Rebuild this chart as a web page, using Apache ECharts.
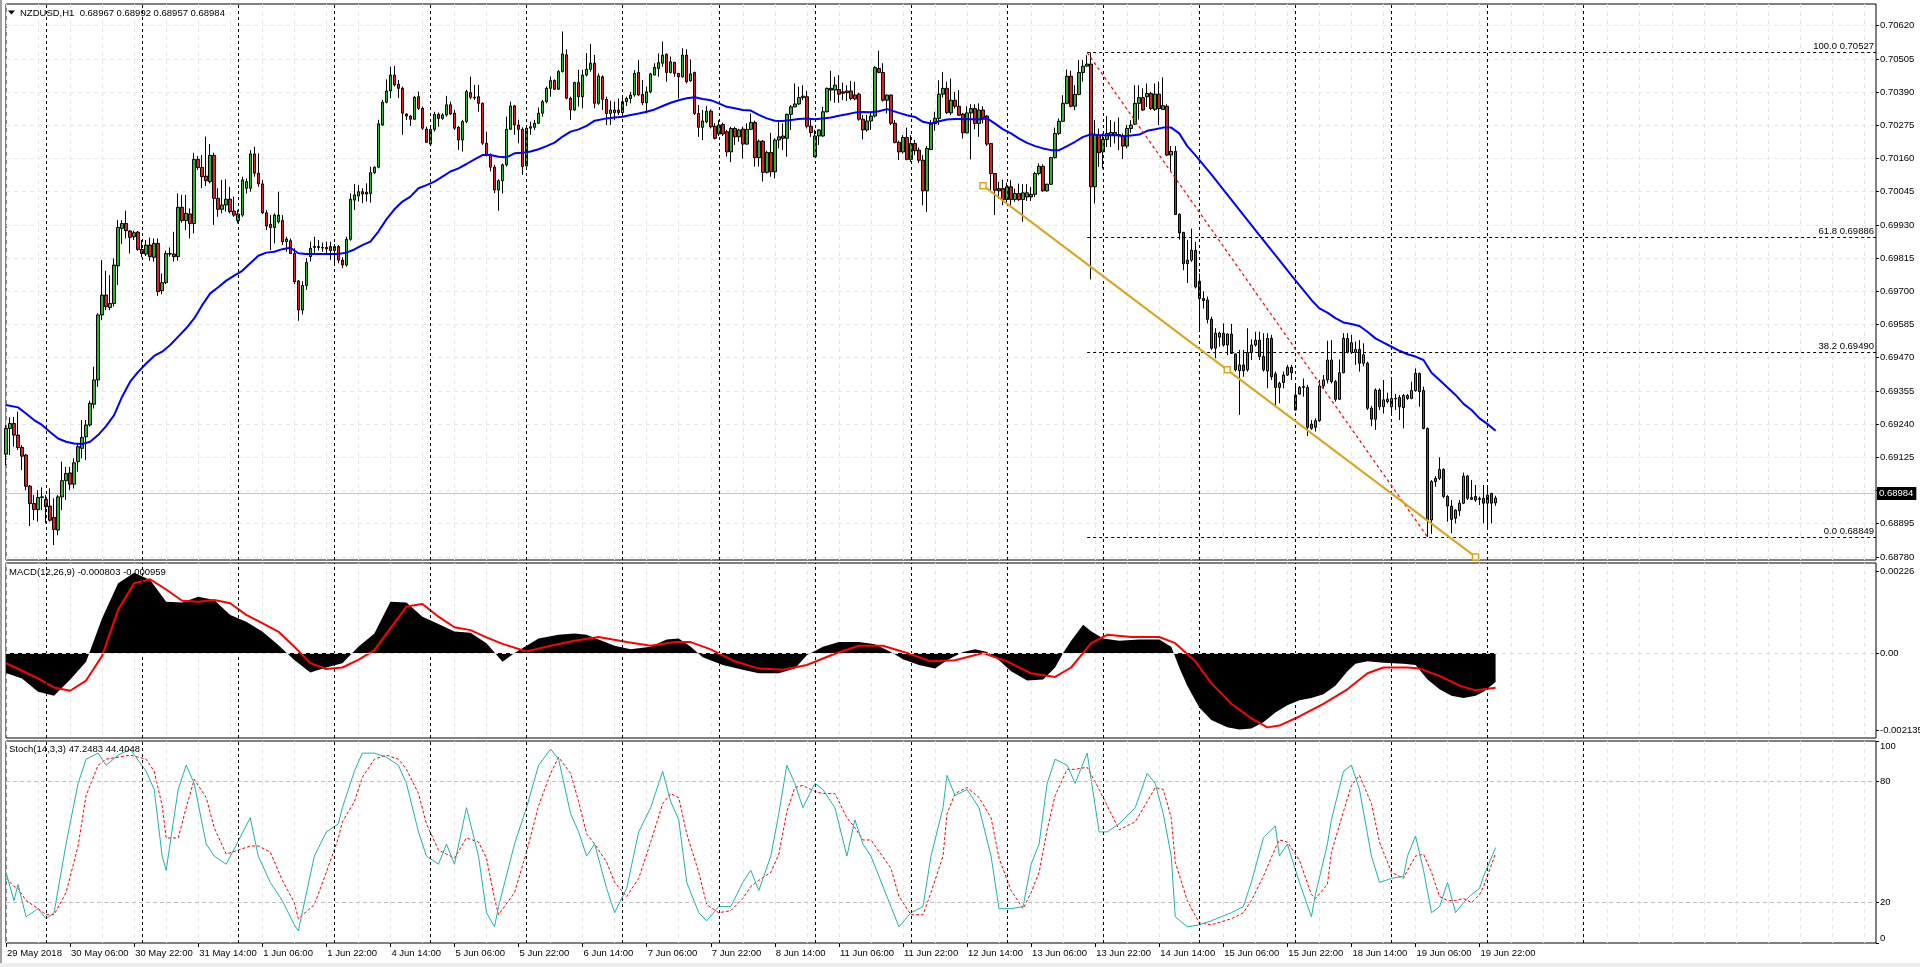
<!DOCTYPE html>
<html><head><meta charset="utf-8">
<script src="https://cdn.jsdelivr.net/npm/echarts@6/dist/echarts.min.js"></script>
<style>html,body{margin:0;padding:0;background:#fff;overflow:hidden}#c{width:1920px;height:967px}</style>
</head><body><div id="c"></div><script>
// ---------- DATA ----------
const symbolTitle = 'NZDUSD,H1  0.68967 0.68992 0.68957 0.68984';
const macdTitle = 'MACD(12,26,9) -0.000803 -0.000959';
const stochTitle = 'Stoch(14,3,3) 47.2483 44.4048';
const dayNames = ['29 May','30 May','31 May','1 Jun','4 Jun','5 Jun','6 Jun','7 Jun','8 Jun','11 Jun','12 Jun','13 Jun','14 Jun','15 Jun','18 Jun','19 Jun','20 Jun','21 Jun','22 Jun','25 Jun','26 Jun'];
const firstLabel = '29 May 2018';
const priceTicks = [0.68780,0.68895,0.69010,0.69125,0.69240,0.69355,0.69470,0.69585,0.69700,0.69815,0.69930,0.70045,0.70160,0.70275,0.70390,0.70505,0.70620];
const macdTicks = [0.00226, 0, -0.002135];
const stochTicks = [0, 20, 80, 100];
const stochLevels = [80, 20];
const sepIdx = [10,34,58,82,106,130,154,178,202,226,250,274,298,322,346,370,394];

const open = [
0.69136,0.69225,0.69242,0.69202,0.69159,0.69133,0.69025,0.68965,0.68944,0.68986,
0.68979,0.68956,0.68917,0.68873,0.68988,0.69044,0.69071,0.69032,0.69110,0.69156,
0.69196,0.69237,0.69309,0.69393,0.69618,0.69687,0.69644,0.69658,0.69788,0.69918,
0.69935,0.69909,0.69889,0.69905,0.69845,0.69829,0.69860,0.69818,0.69866,0.69702,
0.69730,0.69831,0.69829,0.69820,0.69991,0.69945,0.69968,0.69935,0.70157,0.70129,
0.70099,0.70080,0.70171,0.70022,0.69984,0.69999,0.70019,0.69978,0.69945,0.69964,
0.70057,0.70057,0.70176,0.70109,0.70072,0.69972,0.69932,0.69921,0.69941,0.69945,
0.69872,0.69875,0.69831,0.69736,0.69635,0.69720,0.69820,0.69852,0.69855,0.69852,
0.69852,0.69855,0.69841,0.69855,0.69808,0.69791,0.69880,0.70016,0.70030,0.70045,
0.70043,0.70039,0.70111,0.70130,0.70276,0.70355,0.70394,0.70449,0.70417,0.70403,
0.70314,0.70307,0.70296,0.70374,0.70334,0.70262,0.70210,0.70261,0.70313,0.70299,
0.70311,0.70346,0.70317,0.70268,0.70224,0.70288,0.70388,0.70372,0.70374,0.70351,
0.70213,0.70172,0.70130,0.70051,0.70083,0.70138,0.70261,0.70342,0.70276,0.70261,
0.70134,0.70265,0.70268,0.70282,0.70317,0.70357,0.70403,0.70430,0.70400,0.70461,
0.70519,0.70369,0.70328,0.70423,0.70374,0.70449,0.70469,0.70490,0.70351,0.70443,
0.70365,0.70316,0.70328,0.70328,0.70319,0.70357,0.70368,0.70380,0.70458,0.70382,
0.70353,0.70391,0.70449,0.70472,0.70490,0.70521,0.70458,0.70493,0.70455,0.70443,
0.70518,0.70429,0.70458,0.70316,0.70268,0.70287,0.70324,0.70272,0.70245,0.70278,
0.70253,0.70183,0.70264,0.70235,0.70262,0.70210,0.70261,0.70285,0.70163,0.70220,
0.70112,0.70181,0.70114,0.70224,0.70238,0.70230,0.70313,0.70339,0.70349,0.70376,
0.70374,0.70272,0.70166,0.70238,0.70238,0.70322,0.70403,0.70397,0.70399,0.70391,
0.70388,0.70394,0.70380,0.70383,0.70296,0.70259,0.70290,0.70307,0.70472,0.70458,
0.70362,0.70380,0.70282,0.70216,0.70183,0.70233,0.70157,0.70212,0.70189,0.70154,
0.70048,0.70191,0.70281,0.70299,0.70383,0.70403,0.70318,0.70362,0.70341,0.70314,
0.70249,0.70318,0.70333,0.70281,0.70328,0.70307,0.70212,0.70108,0.70056,0.70056,
0.70018,0.70062,0.70018,0.70039,0.70018,0.70027,0.70036,0.70036,0.70108,0.70133,
0.70048,0.70071,0.70163,0.70247,0.70289,0.70351,0.70445,0.70341,0.70382,0.70458,
0.70480,0.70487,0.70062,0.70241,0.70183,0.70226,0.70241,0.70241,0.70243,0.70239,
0.70203,0.70264,0.70279,0.70351,0.70371,0.70374,0.70385,0.70330,0.70383,0.70330,
0.70341,0.70172,0.70185,0.69967,0.69904,0.69796,0.69808,0.69842,0.69735,0.69675,
0.69670,0.69603,0.69503,0.69541,0.69555,0.69514,0.69552,0.69483,0.69425,0.69445,
0.69428,0.69488,0.69514,0.69531,0.69474,0.69424,0.69537,0.69414,0.69367,0.69384,
0.69410,0.69437,0.69289,0.69344,0.69367,0.69367,0.69240,0.69229,0.69252,0.69372,
0.69393,0.69462,0.69387,0.69326,0.69418,0.69537,0.69489,0.69488,0.69499,0.69451,
0.69451,0.69295,0.69257,0.69358,0.69300,0.69318,0.69300,0.69329,0.69332,0.69297,
0.69339,0.69329,0.69356,0.69416,0.69356,0.69225,0.68908,0.69041,0.69052,0.69083,
0.68989,0.68956,0.68914,0.68940,0.68966,0.69060,0.68986,0.68989,0.68979,0.68983,
0.68966,0.69000,0.68967];
const high = [
0.69237,0.69263,0.69265,0.69283,0.69167,0.69136,0.69029,0.68994,0.69011,0.69021,
0.68994,0.69017,0.68983,0.68994,0.69110,0.69092,0.69092,0.69121,0.69173,0.69254,
0.69254,0.69321,0.69439,0.69624,0.69808,0.69771,0.69756,0.69814,0.69947,0.69947,
0.69979,0.69912,0.69910,0.69909,0.69878,0.69878,0.69886,0.69883,0.69883,0.69762,
0.69841,0.69852,0.69906,0.70039,0.70034,0.70034,0.69987,0.70180,0.70169,0.70172,
0.70236,0.70210,0.70180,0.70057,0.70086,0.70088,0.70062,0.70028,0.69982,0.70097,
0.70091,0.70189,0.70201,0.70178,0.70086,0.69982,0.69964,0.69970,0.70045,0.69964,
0.69889,0.69883,0.69849,0.69739,0.69735,0.69815,0.69872,0.69889,0.69878,0.69869,
0.69872,0.69872,0.69864,0.69860,0.69818,0.69889,0.70039,0.70072,0.70068,0.70057,
0.70074,0.70132,0.70132,0.70294,0.70363,0.70434,0.70478,0.70481,0.70432,0.70409,
0.70317,0.70311,0.70377,0.70392,0.70340,0.70270,0.70265,0.70322,0.70319,0.70317,
0.70377,0.70357,0.70328,0.70273,0.70294,0.70398,0.70444,0.70415,0.70415,0.70354,
0.70253,0.70178,0.70138,0.70088,0.70143,0.70305,0.70357,0.70346,0.70294,0.70268,
0.70270,0.70288,0.70294,0.70337,0.70363,0.70409,0.70444,0.70434,0.70467,0.70600,
0.70538,0.70374,0.70426,0.70467,0.70467,0.70525,0.70557,0.70519,0.70455,0.70448,
0.70374,0.70360,0.70357,0.70368,0.70374,0.70374,0.70391,0.70466,0.70501,0.70432,
0.70409,0.70457,0.70490,0.70524,0.70565,0.70524,0.70513,0.70495,0.70456,0.70542,
0.70538,0.70503,0.70461,0.70345,0.70328,0.70342,0.70330,0.70282,0.70293,0.70284,
0.70259,0.70270,0.70270,0.70263,0.70270,0.70282,0.70316,0.70291,0.70226,0.70224,
0.70187,0.70249,0.70230,0.70287,0.70282,0.70316,0.70345,0.70420,0.70409,0.70414,
0.70395,0.70300,0.70259,0.70261,0.70339,0.70406,0.70464,0.70443,0.70449,0.70423,
0.70414,0.70429,0.70426,0.70388,0.70311,0.70311,0.70322,0.70480,0.70533,0.70490,
0.70381,0.70381,0.70293,0.70222,0.70241,0.70267,0.70241,0.70224,0.70198,0.70172,
0.70203,0.70293,0.70322,0.70431,0.70460,0.70426,0.70437,0.70391,0.70397,0.70318,
0.70341,0.70348,0.70348,0.70351,0.70341,0.70310,0.70214,0.70110,0.70079,0.70087,
0.70076,0.70085,0.70056,0.70073,0.70071,0.70071,0.70062,0.70114,0.70143,0.70140,
0.70073,0.70166,0.70267,0.70299,0.70379,0.70468,0.70464,0.70414,0.70501,0.70501,
0.70518,0.70527,0.70293,0.70264,0.70247,0.70307,0.70293,0.70287,0.70302,0.70247,
0.70276,0.70293,0.70414,0.70414,0.70403,0.70420,0.70391,0.70420,0.70426,0.70441,
0.70348,0.70203,0.70203,0.69970,0.69906,0.69877,0.69917,0.69871,0.69762,0.69700,
0.69682,0.69612,0.69572,0.69560,0.69589,0.69555,0.69587,0.69485,0.69497,0.69497,
0.69572,0.69534,0.69560,0.69560,0.69555,0.69555,0.69549,0.69422,0.69387,0.69422,
0.69445,0.69445,0.69379,0.69372,0.69398,0.69376,0.69254,0.69260,0.69393,0.69410,
0.69529,0.69531,0.69393,0.69464,0.69555,0.69555,0.69549,0.69526,0.69531,0.69520,
0.69456,0.69303,0.69364,0.69364,0.69393,0.69349,0.69393,0.69344,0.69341,0.69344,
0.69344,0.69387,0.69433,0.69418,0.69370,0.69228,0.69046,0.69060,0.69125,0.69087,
0.68994,0.68977,0.68945,0.68977,0.69072,0.69064,0.69046,0.69029,0.68989,0.69029,
0.69029,0.69002,0.68992];
const low = [
0.69098,0.69133,0.69162,0.69150,0.69081,0.69011,0.68887,0.68907,0.68902,0.68942,
0.68896,0.68902,0.68821,0.68855,0.68942,0.68977,0.69011,0.69017,0.69075,0.69121,
0.69115,0.69231,0.69294,0.69369,0.69600,0.69635,0.69635,0.69647,0.69722,0.69864,
0.69883,0.69831,0.69878,0.69841,0.69818,0.69822,0.69806,0.69803,0.69684,0.69690,
0.69725,0.69820,0.69803,0.69806,0.69938,0.69912,0.69883,0.69901,0.70120,0.70057,
0.70065,0.70074,0.69930,0.69958,0.69970,0.69976,0.69970,0.69958,0.69935,0.69958,
0.70039,0.70045,0.70097,0.70062,0.69968,0.69912,0.69843,0.69866,0.69935,0.69860,
0.69837,0.69829,0.69725,0.69598,0.69620,0.69705,0.69803,0.69832,0.69841,0.69837,
0.69832,0.69808,0.69797,0.69797,0.69780,0.69785,0.69875,0.69982,0.70011,0.70005,
0.70011,0.70007,0.70106,0.70126,0.70273,0.70351,0.70369,0.70409,0.70369,0.70242,
0.70294,0.70273,0.70294,0.70328,0.70259,0.70215,0.70203,0.70253,0.70270,0.70294,
0.70305,0.70311,0.70259,0.70190,0.70184,0.70282,0.70365,0.70363,0.70322,0.70207,
0.70167,0.70115,0.70040,0.69979,0.70039,0.70132,0.70259,0.70242,0.70213,0.70103,
0.70132,0.70242,0.70259,0.70280,0.70305,0.70351,0.70374,0.70398,0.70398,0.70458,
0.70365,0.70294,0.70326,0.70340,0.70334,0.70444,0.70461,0.70334,0.70346,0.70328,
0.70276,0.70276,0.70293,0.70311,0.70307,0.70342,0.70351,0.70374,0.70376,0.70345,
0.70316,0.70386,0.70449,0.70443,0.70478,0.70426,0.70455,0.70443,0.70368,0.70440,
0.70420,0.70426,0.70311,0.70235,0.70224,0.70282,0.70264,0.70226,0.70238,0.70238,
0.70166,0.70147,0.70207,0.70218,0.70160,0.70207,0.70259,0.70132,0.70132,0.70080,
0.70108,0.70097,0.70091,0.70195,0.70189,0.70166,0.70259,0.70337,0.70345,0.70362,
0.70264,0.70235,0.70164,0.70207,0.70235,0.70319,0.70360,0.70353,0.70353,0.70362,
0.70359,0.70362,0.70362,0.70291,0.70226,0.70253,0.70259,0.70302,0.70455,0.70357,
0.70316,0.70276,0.70212,0.70155,0.70177,0.70154,0.70148,0.70172,0.70145,0.69998,
0.69975,0.70189,0.70256,0.70276,0.70371,0.70314,0.70310,0.70333,0.70307,0.70229,
0.70247,0.70157,0.70261,0.70235,0.70281,0.70203,0.70050,0.69964,0.70021,0.69998,
0.70004,0.69998,0.70010,0.70013,0.69941,0.70013,0.70013,0.70027,0.70102,0.70045,
0.70045,0.70068,0.70160,0.70241,0.70287,0.70348,0.70337,0.70328,0.70379,0.70426,
0.70478,0.69741,0.70004,0.70131,0.70125,0.70200,0.70200,0.70212,0.70189,0.70158,
0.70195,0.70249,0.70276,0.70295,0.70325,0.70339,0.70328,0.70325,0.70276,0.70328,
0.70168,0.70114,0.69964,0.69879,0.69773,0.69729,0.69802,0.69710,0.69565,0.69640,
0.69589,0.69497,0.69468,0.69508,0.69508,0.69479,0.69483,0.69422,0.69272,0.69404,
0.69422,0.69462,0.69508,0.69462,0.69422,0.69364,0.69393,0.69306,0.69312,0.69364,
0.69407,0.69393,0.69287,0.69341,0.69335,0.69199,0.69220,0.69214,0.69248,0.69364,
0.69381,0.69381,0.69318,0.69324,0.69416,0.69485,0.69483,0.69445,0.69422,0.69440,
0.69289,0.69233,0.69220,0.69289,0.69277,0.69312,0.69277,0.69289,0.69254,0.69225,
0.69324,0.69326,0.69352,0.69300,0.69222,0.68849,0.68860,0.69023,0.69046,0.68983,
0.68902,0.68862,0.68896,0.68922,0.68963,0.68977,0.68977,0.68971,0.68960,0.68896,
0.68879,0.68896,0.68957];
const close = [
0.69225,0.69242,0.69202,0.69159,0.69129,0.69025,0.68965,0.68944,0.68986,0.68988,
0.68954,0.68907,0.68875,0.68988,0.69044,0.69069,0.69032,0.69106,0.69162,0.69194,
0.69237,0.69312,0.69393,0.69618,0.69687,0.69647,0.69658,0.69791,0.69921,0.69935,
0.69910,0.69887,0.69903,0.69845,0.69831,0.69860,0.69820,0.69866,0.69699,0.69730,
0.69831,0.69829,0.69820,0.69991,0.69945,0.69970,0.69935,0.70157,0.70129,0.70097,
0.70083,0.70171,0.70022,0.69984,0.69999,0.70019,0.69976,0.69964,0.69968,0.70086,
0.70080,0.70176,0.70109,0.70072,0.69972,0.69926,0.69921,0.69964,0.69964,0.69872,
0.69881,0.69831,0.69733,0.69635,0.69720,0.69800,0.69849,0.69855,0.69852,0.69850,
0.69847,0.69841,0.69855,0.69808,0.69791,0.69880,0.70019,0.70034,0.70045,0.70037,
0.70037,0.70111,0.70130,0.70280,0.70355,0.70394,0.70449,0.70415,0.70403,0.70317,
0.70307,0.70296,0.70372,0.70334,0.70265,0.70216,0.70261,0.70313,0.70299,0.70311,
0.70346,0.70314,0.70265,0.70224,0.70288,0.70392,0.70372,0.70370,0.70351,0.70213,
0.70172,0.70130,0.70051,0.70083,0.70138,0.70261,0.70342,0.70276,0.70261,0.70132,
0.70265,0.70270,0.70282,0.70317,0.70357,0.70403,0.70430,0.70400,0.70461,0.70522,
0.70369,0.70328,0.70423,0.70374,0.70449,0.70469,0.70490,0.70351,0.70446,0.70365,
0.70316,0.70328,0.70319,0.70319,0.70357,0.70368,0.70380,0.70455,0.70380,0.70353,
0.70391,0.70453,0.70476,0.70492,0.70518,0.70458,0.70495,0.70455,0.70443,0.70518,
0.70426,0.70453,0.70316,0.70268,0.70290,0.70324,0.70270,0.70230,0.70276,0.70245,
0.70183,0.70264,0.70235,0.70259,0.70210,0.70261,0.70285,0.70163,0.70220,0.70112,
0.70181,0.70114,0.70224,0.70235,0.70230,0.70313,0.70339,0.70349,0.70371,0.70371,
0.70272,0.70250,0.70238,0.70259,0.70322,0.70403,0.70397,0.70414,0.70383,0.70386,
0.70394,0.70368,0.70366,0.70296,0.70259,0.70290,0.70307,0.70475,0.70458,0.70362,
0.70380,0.70282,0.70216,0.70183,0.70233,0.70157,0.70212,0.70187,0.70154,0.70048,
0.70195,0.70279,0.70299,0.70383,0.70403,0.70319,0.70362,0.70341,0.70310,0.70249,
0.70318,0.70333,0.70281,0.70328,0.70302,0.70210,0.70108,0.70050,0.70048,0.70018,
0.70062,0.70018,0.70039,0.70018,0.70041,0.70041,0.70027,0.70108,0.70133,0.70048,
0.70071,0.70163,0.70247,0.70289,0.70351,0.70445,0.70341,0.70382,0.70458,0.70480,
0.70487,0.70062,0.70241,0.70180,0.70226,0.70247,0.70250,0.70250,0.70241,0.70203,
0.70264,0.70276,0.70351,0.70371,0.70328,0.70385,0.70333,0.70383,0.70333,0.70343,
0.70172,0.70185,0.69966,0.69902,0.69796,0.69808,0.69842,0.69715,0.69675,0.69668,
0.69603,0.69503,0.69555,0.69555,0.69514,0.69552,0.69485,0.69428,0.69445,0.69425,
0.69488,0.69514,0.69531,0.69474,0.69428,0.69537,0.69404,0.69367,0.69381,0.69410,
0.69437,0.69418,0.69341,0.69367,0.69370,0.69229,0.69225,0.69252,0.69372,0.69393,
0.69462,0.69387,0.69326,0.69418,0.69537,0.69489,0.69522,0.69499,0.69451,0.69480,
0.69295,0.69257,0.69358,0.69300,0.69324,0.69326,0.69329,0.69327,0.69300,0.69339,
0.69329,0.69356,0.69416,0.69352,0.69225,0.68908,0.69041,0.69052,0.69083,0.68989,
0.68956,0.68910,0.68942,0.68966,0.69060,0.68983,0.68979,0.68977,0.68982,0.68966,
0.68994,0.68966,0.68984];

const maIdx = [0,3,5,7,9,11,13,15,17,19,21,23,25,27,29,31,33,35,37,39,41,43,45,47,49,51,53,55,57,59,61,63,65,67,69,71,73,75,79,83,85,87,89,91,93,95,97,99,101,103,105,107,109,111,113,115,117,119,121,123,125,127,129,131,133,135,137,139,141,143,145,147,150,152,154,156,158,160,162,164,166,168,170,172,174,176,178,180,182,184,186,188,190,192,194,196,198,200,202,204,206,208,210,212,214,216,218,220,223,225,227,229,231,233,235,237,239,241,243,245,247,249,251,253,255,257,259,261,263,265,267,269,271,273,275,277,279,281,283,285,287,289,291,293,295,297,301,305,309,313,317,321,326,328,330,332,334,336,338,340,342,344,346,348,350,352,354,356,358,360,362,364,366,368,370,372];
const maVal = [0.69306,0.69298,0.69277,0.69254,0.69237,0.69213,0.69190,0.69179,0.69173,0.69171,0.69179,0.69202,0.69233,0.69271,0.69335,0.69387,0.69421,0.69450,0.69476,0.69491,0.69514,0.69543,0.69572,0.69606,0.69652,0.69693,0.69714,0.69737,0.69754,0.69771,0.69797,0.69823,0.69834,0.69837,0.69846,0.69851,0.69832,0.69829,0.69829,0.69829,0.69834,0.69845,0.69860,0.69872,0.69907,0.69949,0.69984,0.70011,0.70028,0.70057,0.70068,0.70080,0.70097,0.70115,0.70126,0.70141,0.70157,0.70172,0.70172,0.70166,0.70164,0.70178,0.70180,0.70184,0.70192,0.70203,0.70215,0.70236,0.70253,0.70261,0.70273,0.70291,0.70299,0.70302,0.70305,0.70311,0.70316,0.70322,0.70330,0.70342,0.70353,0.70362,0.70369,0.70372,0.70366,0.70362,0.70351,0.70339,0.70334,0.70328,0.70326,0.70311,0.70299,0.70291,0.70290,0.70293,0.70297,0.70299,0.70296,0.70299,0.70302,0.70308,0.70313,0.70319,0.70321,0.70320,0.70324,0.70331,0.70318,0.70310,0.70304,0.70287,0.70281,0.70289,0.70295,0.70297,0.70297,0.70296,0.70296,0.70299,0.70281,0.70261,0.70247,0.70229,0.70214,0.70203,0.70195,0.70189,0.70189,0.70203,0.70218,0.70235,0.70244,0.70241,0.70241,0.70241,0.70237,0.70240,0.70243,0.70256,0.70261,0.70267,0.70267,0.70247,0.70203,0.70172,0.70105,0.70035,0.69965,0.69895,0.69825,0.69755,0.69670,0.69641,0.69626,0.69607,0.69592,0.69587,0.69580,0.69560,0.69537,0.69522,0.69508,0.69494,0.69482,0.69474,0.69462,0.69418,0.69393,0.69367,0.69341,0.69310,0.69289,0.69260,0.69240,0.69217];

// MACD histogram and signal, read at the bar positions listed in the Idx arrays
const macdHistIdx = [0,4,8,12,16,20,24,28,32,36,40,44,48,52,56,60,64,68,72,76,80,84,88,92,96,100,104,108,112,116,120,124,
127,130,133,138,142,145,148,152,156,161,165,168,171,174,179,184,188,193,197,200,204,208,213,217,221,224,228,232,235,239,
242,245,248,251,255,259,262,264,266,269,271,274,278,283,288,291,293,295,298,301,305,308,311,314,317,320,323,326,329,332,
335,337,340,344,349,352,355,358,361,364,367,369,372];
const macdHistVal = [-0.00055,-0.00070,-0.00107,-0.00118,-0.00074,-0.00024,0.00096,0.00192,0.00221,0.00201,0.00141,0.00139,0.00155,0.00146,0.00105,0.00086,0.00059,0.00022,-0.00019,-0.00054,-0.00040,-0.00028,0.00017,0.00054,0.00141,0.00139,0.00100,0.00080,0.00059,0.00056,0.00027,-0.00024,
0,0.0002,0.0004,0.0005,0.00054,0.0005,0.00037,0.0002,0.0001,0.00017,0.00037,0.0004,0.00017,-0.00012,-0.00033,-0.00046,-0.00056,-0.00056,-0.00043,-0.00006,0.00017,0.0003,0.0003,0.00024,0.00003,-0.00017,-0.00033,-0.00043,-0.0002,0.00003,
0.0001,0.00003,-0.0002,-0.0005,-0.00076,-0.00073,-0.0004,0,0.00034,0.00078,0.0006,0.0004,0.00034,0.00037,0.00037,0.00017,-0.0004,-0.0009,-0.0015,-0.00185,-0.00205,-0.00211,-0.00208,-0.00191,-0.00164,-0.00144,-0.0013,-0.00124,-0.00114,-0.0009,
-0.0005,-0.0003,-0.00023,-0.00027,-0.0003,-0.00033,-0.00073,-0.001,-0.00118,-0.00124,-0.00118,-0.00107,-0.000803];
const macdSigIdx = [0,4,8,12,16,20,24,28,32,36,40,44,48,52,56,60,64,68,72,76,80,84,88,92,96,100,104,108,112,116,120,124,
130,136,142,148,155,161,167,171,176,182,188,194,200,207,213,219,225,231,237,244,250,256,262,266,271,275,281,288,292,297,
301,306,311,315,318,323,329,335,340,344,350,353,358,363,367,372];
const macdSigVal = [-0.00028,-0.00049,-0.00070,-0.00095,-0.00104,-0.00076,-0.00008,0.00119,0.00192,0.00203,0.00175,0.00144,0.00141,0.00146,0.00137,0.00105,0.00082,0.00059,0.00017,-0.00028,-0.00044,-0.00040,-0.00019,0.00008,0.00068,0.00128,0.00135,0.00100,0.00071,0.00063,0.00043,0.00025,
0.00004,0.0002,0.00034,0.00044,0.0003,0.0002,0.0003,0.0003,0.0001,-0.00023,-0.00043,-0.00046,-0.00033,-0.00002,0.0002,0.0002,0,-0.00023,-0.0002,0,-0.00023,-0.00056,-0.00066,-0.0004,0.00027,0.0005,0.00044,0.00044,0.00027,-0.00023,
-0.00083,-0.0014,-0.0018,-0.00205,-0.002,-0.00175,-0.0014,-0.001,-0.00056,-0.0004,-0.0004,-0.00043,-0.00063,-0.0009,-0.00103,-0.000959];

// Stochastic %K and %D, read at the bar positions in stochIdx
const stochIdx = [0,2,3,5,8,10,12,15,18,20,23,25,28,31,35,37,39,40,43,45,47,50,52,55,61,63,66,69,72,73,77,80,83,84,87,89,92,95,98,100,
103,105,108,110,112,115,118,120,122,123,127,130,133,136,138,141,143,145,147,150,152,155,158,161,164,166,168,170,173,175,
178,181,184,186,188,191,193,195,197,199,202,204,207,210,212,214,216,221,223,226,229,231,234,235,237,240,243,246,248,251,
254,256,258,260,262,265,267,270,273,275,278,282,285,287,289,291,292,295,298,301,306,309,311,314,317,318,320,323,326,327,
330,331,334,336,338,341,343,346,349,350,352,354,356,358,360,362,364,366,368,369,372];
const stochK = [35,21,29,13,17,12,15,49,79,91,94,88,93,96,85,76,43,36,76,88,79,49,43,39,62,43,30,21,9,6,43,55,59,67,85,94,94,92,88,79,
55,43,39,49,39,67,43,15,8,18,49,67,88,96,91,64,55,43,49,27,15,27,55,67,85,70,61,30,15,11,
18,18,30,36,26,43,64,88,79,67,79,76,67,43,61,49,43,18,8,15,18,43,67,83,73,76,67,43,17,17,
18,39,49,79,91,88,79,94,55,55,59,67,84,79,64,43,13,8,9,11,15,18,30,52,58,43,49,30,13,24,
49,61,85,88,76,43,30,32,33,43,53,36,15,18,30,15,20,24,27,33,47.25];
const stochD = [32,28,27,21,17,14,14,25,48,73,88,91,92,93,91,85,68,52,52,67,81,72,57,44,48,48,45,31,20,12,19,35,52,60,70,82,91,93,91,86,
74,59,46,44,42,52,50,42,22,14,25,45,68,84,92,84,70,54,49,40,30,23,32,50,69,74,72,54,35,19,
15,16,22,28,31,35,44,65,77,78,75,74,74,62,57,51,51,37,23,14,14,25,43,64,74,77,72,62,42,26,
17,25,35,56,73,86,86,87,76,68,56,60,70,77,76,62,40,21,10,9,12,15,21,33,47,51,50,41,24,22,
29,45,65,78,83,69,50,35,32,36,43,44,35,23,21,21,22,20,24,28,44.40];

// drawing objects
const fibLevels = [0.70527, 0.69886, 0.69490, 0.68849];
const fibNames = ['100.0', '61.8', '38.2', '0.0'];
const fibStartIdx = 270;
const fibDiagIdx = [270, 355];
const fibDiagVal = [0.70527, 0.68849];
const trendIdx = [244, 305, 367];
const trendVal = [0.70066, 0.69428, 0.68780];
const bidPrice = 0.68984;

// ---------- BUILD ----------
const totalSlots = 468;
const cats = [];
dayNames.forEach((d, k) => {
  for (let h = (k === 0 ? 14 : 0); h < 24 && cats.length < totalSlots; h++) {
    cats.push(d + ' ' + String(h).padStart(2, '0') + ':00');
  }
});
const nBars = close.length;
const candle = close.map((c, i) => [open[i], c, low[i], high[i]]);
const pairs = (xs, ys) => xs.map((x, k) => [x, ys[k]]);
const FONT = "'Liberation Sans', Arial, sans-serif";
const FS = 9.5;

const gridBase = {left: 6, right: 44, show: true, borderColor: '#000', borderWidth: 1, backgroundColor: '#fff', containLabel: false, outerBoundsMode: 'none'};
const grids = [
  Object.assign({}, gridBase, {top: 4, height: 556}),
  Object.assign({}, gridBase, {top: 563, height: 175}),
  Object.assign({}, gridBase, {top: 741, height: 202})
];
const xGridLine = {show: true, interval: (i) => i % 8 === 0, lineStyle: {color: '#e6e6e6', type: [4, 4], width: 1}};
function xAxisFor(g, showLabels) {
  return {
    type: 'category', gridIndex: g, data: cats, boundaryGap: false,
    axisLine: {show: false},
    axisTick: {show: showLabels, interval: (i) => i % 16 === 0 && i < nBars, length: 4, lineStyle: {color: '#000'}},
    axisLabel: {show: showLabels, interval: (i) => i % 16 === 0 && i < nBars, formatter: (v, i) => i === 0 ? firstLabel : v,
      align: 'left', color: '#000', fontFamily: FONT, fontSize: FS, margin: 5, padding: [0, 0, 0, 1]},
    splitLine: xGridLine
  };
}
const sepLine = {silent: true, symbol: 'none', label: {show: false},
  lineStyle: {color: '#000', type: [3, 3], width: 1}, data: sepIdx.map(i => ({xAxis: i}))};

const option = {
  animation: false,
  backgroundColor: '#fff',
  grid: grids,
  xAxis: [xAxisFor(0, false), xAxisFor(1, false), xAxisFor(2, true)],
  yAxis: [
    {type: 'value', gridIndex: 0, position: 'right', scale: true, min: 0.687693, max: 0.706952,
      axisLine: {show: false},
      axisTick: {show: true, length: 3, customValues: priceTicks, lineStyle: {color: '#000'}},
      axisLabel: {customValues: priceTicks, formatter: v => v.toFixed(5), color: '#000', fontFamily: FONT, fontSize: FS, margin: 4},
      splitLine: {show: true, lineStyle: {color: '#e6e6e6', type: [4, 4]}}},
    {type: 'value', gridIndex: 1, position: 'right', min: -0.002343, max: 0.002480,
      axisLine: {show: false},
      axisTick: {show: true, length: 3, customValues: macdTicks, lineStyle: {color: '#000'}},
      axisLabel: {customValues: macdTicks, formatter: v => v === 0 ? '0.00' : String(v), color: '#000', fontFamily: FONT, fontSize: FS, margin: 4},
      splitLine: {show: false}},
    {type: 'value', gridIndex: 2, position: 'right', min: 0, max: 100,
      axisLine: {show: false},
      axisTick: {show: true, length: 3, customValues: stochTicks, lineStyle: {color: '#000'}},
      axisLabel: {customValues: stochTicks, color: '#000', fontFamily: FONT, fontSize: FS, margin: 4,
        verticalAlignMinLabel: 'bottom', verticalAlignMaxLabel: 'top'},
      splitLine: {show: false}}
  ],
  series: [
    {type: 'line', xAxisIndex: 0, yAxisIndex: 0, data: [], z: 1, silent: true,
      markLine: Object.assign({}, sepLine, {data: sepIdx.map(i => ({xAxis: i})).concat(
        fibLevels.map((v, k) => [
          {coord: [fibStartIdx, v], label: {show: true, position: 'insideEndTop', formatter: fibNames[k] + ' ' + v.toFixed(5),
            color: '#000', fontFamily: FONT, fontSize: FS, distance: [2, 1]}},
          {coord: [totalSlots - 1, v]}
        ]))})},
    {type: 'candlestick', xAxisIndex: 0, yAxisIndex: 0, data: candle, barWidth: 3, z: 3,
      itemStyle: {color: '#2cb42c', color0: '#e81c1c', borderColor: '#000', borderColor0: '#000', borderWidth: 1},
      markLine: {silent: true, symbol: 'none', z: 2,
        lineStyle: {color: '#c8c8c8', type: 'solid', width: 1},
        label: {show: true, position: 'end', formatter: bidPrice.toFixed(5), color: '#fff', backgroundColor: '#000',
          padding: [2, 3, 1, 2], fontFamily: FONT, fontSize: FS, distance: 1},
        data: [{yAxis: bidPrice}]}},
    {type: 'line', xAxisIndex: 0, yAxisIndex: 0, data: pairs(maIdx, maVal), symbol: 'none', z: 4,
      lineStyle: {color: '#0000ff', width: 2}},
    {type: 'line', xAxisIndex: 0, yAxisIndex: 0, data: pairs(fibDiagIdx, fibDiagVal), symbol: 'none', z: 5,
      lineStyle: {color: '#ff0000', width: 1.2, type: [3, 3]}},
    {type: 'line', xAxisIndex: 0, yAxisIndex: 0, data: pairs(trendIdx, trendVal), z: 6,
      symbol: 'rect', symbolSize: 6, showAllSymbol: true,
      itemStyle: {color: '#fff', borderColor: '#daa520', borderWidth: 1.5},
      lineStyle: {color: '#daa520', width: 2}},
    {type: 'line', xAxisIndex: 1, yAxisIndex: 1, data: pairs(macdHistIdx, macdHistVal), symbol: 'none', z: 3,
      lineStyle: {width: 0, color: '#000'}, areaStyle: {color: '#000', opacity: 1, origin: 0},
      markLine: Object.assign({}, sepLine, {data: sepIdx.map(i => ({xAxis: i})).concat([
        {yAxis: 0, lineStyle: {color: '#dcdcdc', type: [4, 4]}}])})},
    {type: 'line', xAxisIndex: 1, yAxisIndex: 1, data: pairs(macdSigIdx, macdSigVal), symbol: 'none', z: 4,
      lineStyle: {color: '#ff0000', width: 2}},
    {type: 'line', xAxisIndex: 2, yAxisIndex: 2, data: pairs(stochIdx, stochK), symbol: 'none', z: 4,
      lineStyle: {color: '#20b2aa', width: 1},
      markLine: Object.assign({}, sepLine, {data: sepIdx.map(i => ({xAxis: i})).concat(
        stochLevels.map(v => ({yAxis: v, lineStyle: {color: '#c0c0c0', type: [4, 3]}})))})},
    {type: 'line', xAxisIndex: 2, yAxisIndex: 2, data: pairs(stochIdx, stochD), symbol: 'none', z: 3,
      lineStyle: {color: '#ff0000', width: 1, type: [3, 2]}}
  ],
  graphic: [
    {type: 'rect', shape: {x: 0, y: 0, width: 2, height: 967}, style: {fill: '#a0a0a0'}, silent: true},
    {type: 'rect', shape: {x: 0, y: 963, width: 1920, height: 4}, style: {fill: '#ececec'}, silent: true},
    {type: 'polygon', shape: {points: [[8, 10.5], [15, 10.5], [11.5, 14.5]]}, style: {fill: '#000'}, silent: true},
    {type: 'text', x: 20, y: 13, style: {text: symbolTitle, fill: '#000', font: FS + 'px ' + FONT, verticalAlign: 'middle'}, silent: true, z: 10},
    {type: 'text', x: 9, y: 572, style: {text: macdTitle, fill: '#000', font: FS + 'px ' + FONT, verticalAlign: 'middle'}, silent: true, z: 10},
    {type: 'text', x: 9, y: 749, style: {text: stochTitle, fill: '#000', font: FS + 'px ' + FONT, verticalAlign: 'middle'}, silent: true, z: 10}
  ]
};
const chart = echarts.init(document.getElementById('c'), null, {renderer: 'canvas'});
chart.setOption(option);
</script></body></html>
